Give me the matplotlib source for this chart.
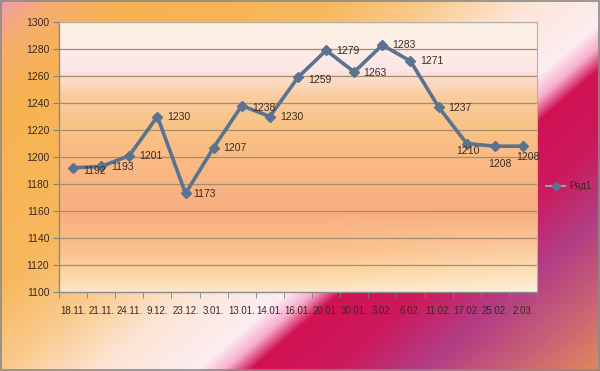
import numpy as np
import matplotlib
matplotlib.use("Agg")
import matplotlib.pyplot as plt

plt.rcParams['font.family'] = ['Liberation Sans', 'DejaVu Sans']

categories = ["18.11.", "21.11.", "24.11.", "9.12.", "23.12.", "3.01.", "13.01.", "14.01.",
              "16.01.", "20.01.", "30.01.", "3.02.", "6.02.", "11.02.", "17.02.", "25.02.", "2.03."]
values = [1192, 1193, 1201, 1230, 1173, 1207, 1238, 1230, 1259, 1279, 1263, 1283, 1271,
          1237, 1210, 1208, 1208]
series_name = "Ряд1"
y_ticks = [1100, 1120, 1140, 1160, 1180, 1200, 1220, 1240, 1260, 1280, 1300]

# label offsets in pixels (dx, dy down) and alignment -- style only
label_off = [(10, 3), (10, 1), (10, 0), (10, 0), (8, 1), (10, 0), (10, 2), (10, 0),
             (10, 3), (10, 1), (9, 1), (10, 0), (10, 0), (10, 1), (1, 8), (5, 18), (5, 11)]
label_ha = ["left"] * 14 + ["center", "center", "center"]

W, H = 600, 371
fig = plt.figure(figsize=(6.0, 3.71), dpi=100)

# ---- figure background gradient ----
yy, xx = np.mgrid[0:H, 0:W].astype(float)
u = xx - 1.16 * (371 - yy)
stops = [(-440, (0.94, 0.60, 0.72)), (-380, (0.96, 0.68, 0.45)), (-300, (0.97, 0.70, 0.32)),
         (-100, (0.97, 0.72, 0.36)), (0, (0.98, 0.79, 0.55)), (100, (0.99, 0.90, 0.84)),
         (195, (0.99, 0.93, 0.95)), (222, (0.97, 0.68, 0.80)), (248, (0.82, 0.07, 0.33)),
         (330, (0.80, 0.10, 0.36)), (420, (0.70, 0.24, 0.52)), (520, (0.80, 0.40, 0.45)),
         (640, (0.93, 0.62, 0.30))]
pos = np.array([s[0] for s in stops], float)
cols = np.array([s[1] for s in stops], float)
img = np.zeros((H, W, 3))
for c in range(3):
    img[..., c] = np.interp(u, pos, cols[:, c])
bg = fig.add_axes([0, 0, 1, 1], zorder=-10)
bg.imshow(img, extent=(0, W, H, 0), aspect="auto", interpolation="bilinear")
bg.set_xlim(0, W)
bg.set_ylim(H, 0)
bg.axis("off")
bg.add_patch(plt.Rectangle((0.5, 0.5), W - 1.5, H - 1.5, fill=False, ec="#8a8a8a", lw=1.2))

# ---- main axes ----
left, right, top, bottom = 59, 537, 22, 292
ax = fig.add_axes([left / W, 1 - bottom / H, (right - left) / W, (bottom - top) / H])
n = len(categories)
x = np.arange(n)
ax.set_xlim(-0.5, n - 0.5)
ax.set_ylim(1100, 1300)

# plot area gradient
gy = np.linspace(1300, 1100, 200)
gx = np.linspace(0, 1, 300)
GX, GY = np.meshgrid(gx, gy)
vs = [(1300, (0.99, 0.95, 0.90)), (1280, (0.99, 0.93, 0.90)), (1265, (0.99, 0.90, 0.90)),
      (1245, (0.98, 0.80, 0.62)), (1220, (0.98, 0.76, 0.52)), (1190, (0.98, 0.72, 0.52)),
      (1160, (0.97, 0.68, 0.50)), (1130, (0.98, 0.76, 0.55)), (1110, (0.99, 0.86, 0.66)),
      (1100, (0.99, 0.90, 0.80))]
vp = np.array([v[0] for v in vs], float)[::-1]
vc = np.array([v[1] for v in vs], float)[::-1]
pimg = np.zeros(GY.shape + (3,))
for c in range(3):
    pimg[..., c] = np.interp(GY, vp, vc[:, c])
pimg = pimg + (1 - pimg) * (0.35 * np.clip((GX - 0.55) / 0.45, 0, 1) * np.clip((1160 - GY) / 60, 0, 1))[..., None]
ax.imshow(pimg, extent=(-0.5, n - 0.5, 1100, 1300), aspect="auto", zorder=0, interpolation="bilinear")

for yt in y_ticks[1:]:
    ax.axhline(yt, color="#a88c6c", lw=0.9, zorder=1)

ax.plot(x, values, color="#5a7391", lw=2.6, marker="D", ms=5.5, mfc="#5a7391",
        mec="#5a7391", zorder=3, label=series_name)

for i, v in enumerate(values):
    dx, dy = label_off[i]
    ax.annotate(str(v), (x[i], v), xytext=(dx * 0.72, -dy * 0.72), textcoords="offset points",
                ha=label_ha[i], va="center", fontsize=7.5, color="#3b2a22", zorder=4)

ax.set_yticks(y_ticks)
ax.set_yticklabels([str(t) for t in y_ticks], fontsize=7.5, color="#3b2a22")
ax.set_xticks(x)
ax.set_xticklabels(categories, fontsize=7.0, color="#3b2a22")
ax.set_xticks(np.arange(n + 1) - 0.5, minor=True)
ax.tick_params(axis="x", which="major", length=0, pad=10)
ax.tick_params(axis="x", which="minor", length=4, color="#808080", direction="out")
ax.tick_params(axis="y", length=4, color="#808080", direction="out", pad=3)

for s in ["top", "right"]:
    ax.spines[s].set_color("#b8b0a8")
    ax.spines[s].set_linewidth(0.8)
for s in ["left", "bottom"]:
    ax.spines[s].set_color("#8a8a8a")
    ax.spines[s].set_linewidth(1.0)

leg = fig.legend(loc="center left", bbox_to_anchor=(541 / W, 1 - 186 / H), frameon=False,
                 fontsize=7, handlelength=2.0, handletextpad=0.4, borderpad=0)
for t in leg.get_texts():
    t.set_color("#3b2a22")
for h in leg.legend_handles:
    h.set_color("#8f9fb8")
    h.set_markersize(4)
    h.set_linewidth(1.5)

fig.savefig("out.png", dpi=100)
